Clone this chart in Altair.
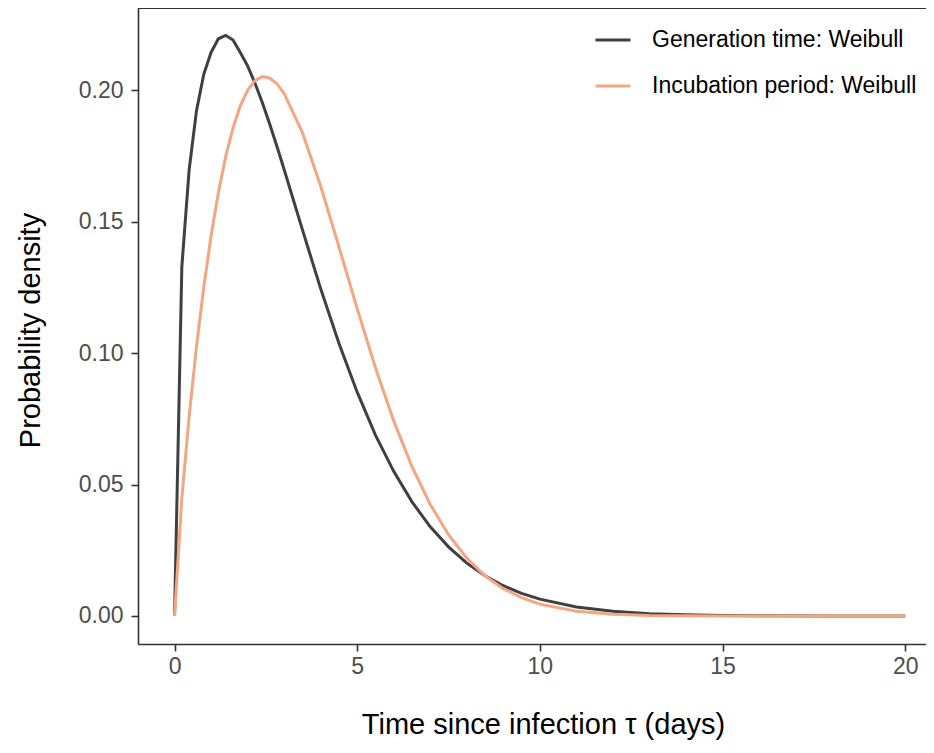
import altair as alt
import pandas as pd

# Time since infection (days) at which the curves were read
days = [0, 0.2, 0.4, 0.6, 0.8, 1.0, 1.2, 1.4, 1.6, 1.8, 2.0, 2.2, 2.4, 2.6, 2.8, 3.0,
        3.5, 4.0, 4.5, 5.0, 5.5, 6.0, 6.5, 7.0, 7.5, 8.0, 8.5, 9.0, 9.5, 10.0,
        11, 12, 13, 14, 15, 16, 18, 20]

# Generation time: Weibull (dark curve)
generation = [0, 0.1328, 0.1697, 0.1920, 0.2060, 0.2143, 0.2195, 0.2208, 0.2190, 0.2143,
              0.2092, 0.2027, 0.1954, 0.1873, 0.1787, 0.1698, 0.1469, 0.1245, 0.1037, 0.0851,
              0.0688, 0.0550, 0.0434, 0.0339, 0.0263, 0.0201, 0.0153, 0.0115, 0.0086, 0.0064,
              0.0034, 0.0018, 0.0009, 0.00045, 0.00022, 0.0001, 0.00002, 0.0]

# Incubation period: Weibull (orange curve)
incubation = [0, 0.0448, 0.0759, 0.1023, 0.1250, 0.1445, 0.1610, 0.1747, 0.1856, 0.1940,
              0.1999, 0.2036, 0.2051, 0.2046, 0.2025, 0.1987, 0.1838, 0.1635, 0.1404, 0.1169,
              0.0944, 0.0742, 0.0568, 0.0424, 0.0309, 0.0220, 0.0153, 0.0104, 0.0070, 0.0045,
              0.0018, 0.0007, 0.00023, 0.00007, 0.00002, 0.0, 0.0, 0.0]

series_names = ["Generation time: Weibull", "Incubation period: Weibull"]
series_colors = ["#404040", "#F4A582"]

x_ticks = [0, 5, 10, 15, 20]
y_ticks = [0.00, 0.05, 0.10, 0.15, 0.20]

rows = []
for name, vals in zip(series_names, [generation, incubation]):
    for d, v in zip(days, vals):
        rows.append({"tau": d, "density": v, "series": name})
df = pd.DataFrame(rows)

FONT = "Liberation Sans"
W, H = 788, 636

lines = alt.Chart(df).mark_line(strokeWidth=3, clip=True).encode(
    x=alt.X("tau:Q",
            scale=alt.Scale(domain=[-1, 20.57], nice=False, zero=False),
            axis=alt.Axis(values=x_ticks, title="Time since infection τ (days)",
                          grid=False, format="d", tickSize=7, tickWidth=1.6, tickColor="#333333",
                          domainColor="#333333", domainWidth=1.6,
                          labelFontSize=23, labelColor="#4D4D4D", labelFont=FONT, labelPadding=4,
                          titleFontSize=29, titleFont=FONT, titleFontWeight="normal",
                          titleColor="#000000", titleX=405, titleY=80,
                          titleBaseline="middle", titleAlign="center")),
    y=alt.Y("density:Q",
            scale=alt.Scale(domain=[-0.01065, 0.2312], nice=False, zero=False),
            axis=alt.Axis(values=y_ticks, title="Probability density", format=".2f",
                          grid=False, tickSize=7, tickWidth=1.6, tickColor="#333333",
                          domainColor="#333333", domainWidth=1.6,
                          labelFontSize=23, labelColor="#4D4D4D", labelFont=FONT, labelPadding=8,
                          titleFontSize=29, titleFont=FONT, titleFontWeight="normal",
                          titleColor="#000000", titleX=-108, titleY=322,
                          titleAngle=270, titleBaseline="middle", titleAlign="center")),
    color=alt.Color("series:N",
                    scale=alt.Scale(domain=series_names, range=series_colors),
                    legend=alt.Legend(title=None, orient="none", legendX=456, legendY=13,
                                      symbolType="stroke", symbolSize=1225, symbolStrokeWidth=3,
                                      labelFontSize=23, labelFont=FONT, labelColor="#000000",
                                      labelOffset=20, rowPadding=15, labelLimit=400)),
)

top_border = alt.Chart(df).mark_rule(color="#333333", strokeWidth=1.6).encode(
    x=alt.value(0), x2=alt.value(W), y=alt.value(0)
)

chart = alt.layer(lines, top_border).properties(
    width=W, height=H,
    autosize=alt.AutoSizeParams(type="none"),
    padding={"left": 130, "top": 0, "right": 0, "bottom": 100},
).configure_view(stroke=None).configure(background="white")

chart.save("out.html", embed_options={"renderer": "svg", "actions": False})
